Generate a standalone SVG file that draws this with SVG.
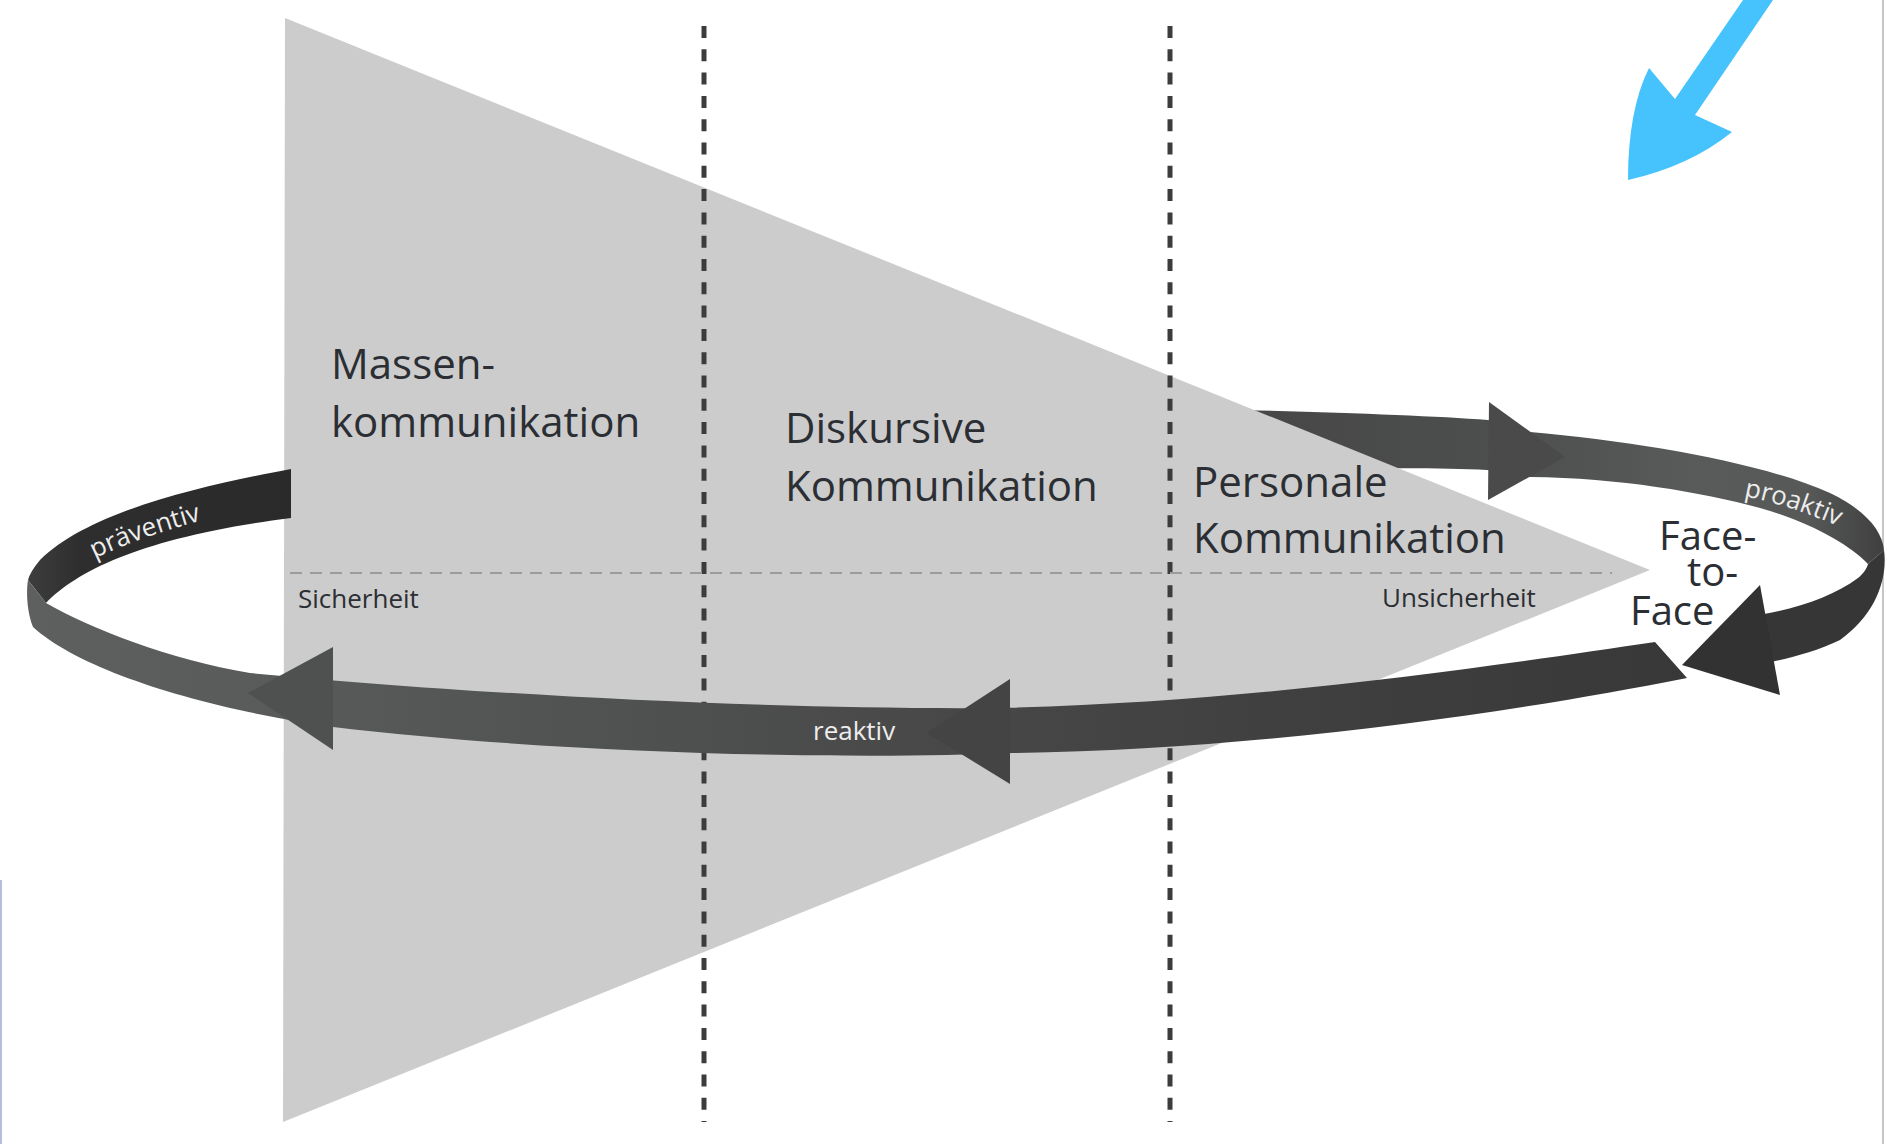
<svg xmlns="http://www.w3.org/2000/svg" width="1887" height="1144" viewBox="0 0 1887 1144">
  <defs>
    <style>
      .lbl { font-family: 'Open Sans', 'Noto Sans', sans-serif; font-size: 42px; fill: #2b2e33; }
      .sm { font-family: 'Open Sans', 'Noto Sans', sans-serif; font-size: 26px; fill: #2b2e33; }
      .rib { font-family: 'Open Sans', 'Noto Sans', sans-serif; font-size: 26px; fill: #ededed; }
      .vdash { stroke: #3c3c3c; stroke-width: 5; stroke-dasharray: 12 11.3; fill: none; }
      .hdash { stroke: #9c9c9c; stroke-width: 2; stroke-dasharray: 12 8; fill: none; }
    </style>
    <linearGradient id="gFront" gradientUnits="userSpaceOnUse" x1="28" y1="0" x2="1690" y2="0">
      <stop offset="0" stop-color="#5d605e"/>
      <stop offset="0.15" stop-color="#595b5a"/>
      <stop offset="0.35" stop-color="#505151"/>
      <stop offset="0.55" stop-color="#484848"/>
      <stop offset="0.75" stop-color="#404040"/>
      <stop offset="1" stop-color="#383838"/>
    </linearGradient>
    <linearGradient id="gBackL" gradientUnits="userSpaceOnUse" x1="28" y1="0" x2="291" y2="0">
      <stop offset="0" stop-color="#3d3d3d"/>
      <stop offset="0.2" stop-color="#2e2e2e"/>
      <stop offset="1" stop-color="#2a2a2a"/>
    </linearGradient>
    <linearGradient id="gBackR" gradientUnits="userSpaceOnUse" x1="1250" y1="0" x2="1884" y2="0">
      <stop offset="0" stop-color="#474747"/>
      <stop offset="0.4" stop-color="#4d4e4e"/>
      <stop offset="0.7" stop-color="#585b59"/>
      <stop offset="0.88" stop-color="#565957"/>
      <stop offset="1" stop-color="#3f3f3f"/>
    </linearGradient>
    <path id="pPrae" d="M 92 560 Q 140 536 225 514"/>
    <path id="pPro" d="M 1742 496 Q 1790 504 1856 534"/>
  </defs>

  <rect x="0" y="0" width="1887" height="1144" fill="#ffffff"/>
  <line x1="1883" y1="0" x2="1883" y2="1144" stroke="#c6c6c6" stroke-width="2"/>
  <line x1="1" y1="880" x2="1" y2="1144" stroke="#b8bde0" stroke-width="2"/>

  <!-- back part of the loop (behind the triangle) -->
  <g id="loop-back">
    <path d="M 1150 408 C 1300 411 1420 415 1488 420 L 1530 432 C 1640 442 1760 462 1830 493 C 1865 510 1882 530 1884 550 L 1868 564 C 1850 545 1810 522 1760 508 C 1700 492 1620 478 1530 477 L 1487 470 C 1420 466 1300 470 1150 470 Z" fill="url(#gBackR)"/>
    <polygon points="1489,402 1565,457 1488,500" fill="#4a4a4a"/>
  </g>

  <g id="triangle">
    <polygon points="285,18 1650,570 283,1122" fill="#cccccc"/>
  </g>

  <g id="loop-back-left">
    <path d="M 291 469 C 210 484 90 510 40 560 Q 30 572 28 580 L 46 603 C 80 568 150 536 291 518 Z" fill="url(#gBackL)"/>
  </g>

  <g id="dividers">
    <line class="vdash" x1="704" y1="26" x2="704" y2="1122"/>
    <line class="vdash" x1="1170" y1="26" x2="1170" y2="1122"/>
    <line class="hdash" x1="290" y1="573" x2="1612" y2="573"/>
  </g>

  <g id="node-massen">
    <text class="lbl" x="331" y="379">Massen-</text>
    <text class="lbl" x="331" y="437">kommunikation</text>
  </g>
  <g id="node-diskursiv">
    <text class="lbl" x="785" y="443">Diskursive</text>
    <text class="lbl" x="785" y="501">Kommunikation</text>
  </g>
  <g id="node-personal">
    <text class="lbl" x="1193" y="497">Personale</text>
    <text class="lbl" x="1193" y="553">Kommunikation</text>
  </g>
  <g id="node-sicherheit">
    <text class="sm" x="298" y="608">Sicherheit</text>
  </g>
  <g id="node-unsicherheit">
    <text class="sm" x="1382" y="607">Unsicherheit</text>
  </g>

  <!-- front part of the loop -->
  <g id="connectors">
    <path d="M 28 580 L 46 603 C 90 628 170 660 250 673 C 450 692 750 710 1000 708 C 1250 702 1480 668 1655 642 L 1687 678 C 1500 715 1250 750 1013 753 C 850 760 560 754 333 727 C 200 708 80 670 33 627 C 27 612 26 592 28 580 Z" fill="url(#gFront)"/>
    <polygon points="333,647 333,750 248,693" fill="#4f5150"/>
    <polygon points="1010,679 1010,784 927,733" fill="#444444"/>
    <path d="M 1884 550 C 1888 580 1875 615 1840 640 C 1815 652 1790 658 1766 663 L 1764 614 C 1800 608 1835 595 1858 578 C 1864 573 1867 568 1868 564 Z" fill="#363636"/>
    <polygon points="1760,585 1780,695 1682,665" fill="#323232"/>
    <text class="rib" x="813" y="740">reaktiv</text>
    <text class="rib"><textPath href="#pPrae" startOffset="3">präventiv</textPath></text>
    <text class="rib" fill="#e2e2e2"><textPath href="#pPro" startOffset="2">proaktiv</textPath></text>
  </g>

  <g id="node-facetoface">
    <text class="lbl" font-size="40" x="1659" y="550" style="font-size:40px">Face-</text>
    <text class="lbl" x="1687" y="586" style="font-size:40px">to-</text>
    <text class="lbl" x="1630" y="625" style="font-size:40px">Face</text>
  </g>

  <g id="blue-arrow">
    <path d="M 1743 0 L 1773 0 L 1695 115 L 1732 132 Q 1690 166 1628 180 Q 1628 110 1649 68 L 1675 99 Z" fill="#46c3fd"/>
  </g>
</svg>
